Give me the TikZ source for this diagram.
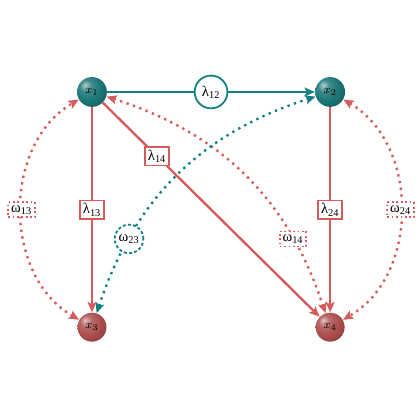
\documentclass[tikz,border=0pt]{standalone}
\usepackage{fontspec}
\setmainfont{Liberation Serif}
\usetikzlibrary{arrows.meta}
\definecolor{tl}{RGB}{18,128,128}
\definecolor{rd}{RGB}{212,92,92}
\definecolor{bt}{RGB}{28,118,118}
\definecolor{br}{RGB}{172,78,78}
\pgfdeclareradialshading{tballsh}{\pgfpoint{-12bp}{12bp}}{color(0bp)=(bt!35!white); color(10bp)=(bt!85!white); color(22bp)=(bt); color(40bp)=(bt!72!black); color(60bp)=(bt!55!black)}
\pgfdeclareradialshading{rballsh}{\pgfpoint{-12bp}{12bp}}{color(0bp)=(br!35!white); color(10bp)=(br!85!white); color(22bp)=(br); color(40bp)=(br!72!black); color(60bp)=(br!55!black)}
\tikzset{
  ballt/.style={circle, minimum size=0.71cm, inner sep=0pt, shading=tballsh, font=\footnotesize},
  ballr/.style={circle, minimum size=0.69cm, inner sep=0pt, shading=rballsh, font=\footnotesize},
  tip/.style={-{Stealth[length=7pt,width=6pt,inset=1.5pt]}},
  btip/.style={{Stealth[length=7pt,width=6pt,inset=1.5pt]}-{Stealth[length=7pt,width=6pt,inset=1.5pt]}},
  tline/.style={draw=tl, line width=1.6pt},
  rline/.style={draw=rd, line width=1.6pt},
  rdot/.style={draw=rd, line width=1.6pt, dash pattern=on 1.6pt off 3pt},
  tdot/.style={draw=tl, line width=1.6pt, dash pattern=on 1.6pt off 3pt},
  lamc/.style={circle, draw=tl, line width=1.2pt, fill=white, inner sep=1.5pt, minimum size=0.78cm},
  lamr/.style={rectangle, draw=rd, line width=1.2pt, fill=white, inner sep=2pt},
  omr/.style={rectangle, draw=rd, line width=1.2pt, dash pattern=on 1.2pt off 1.8pt, fill=white, inner sep=2pt},
  omc/.style={circle, draw=tl, line width=1.2pt, dash pattern=on 2pt off 1.5pt, fill=white, inner sep=0.5pt, minimum size=0.68cm},
}
\begin{document}
\begin{tikzpicture}
\useasboundingbox (0,0) rectangle (10,10);
\node[ballt] (x1) at (2.19,7.81) {$x_1$};
\node[ballt] (x2) at (7.86,7.81) {$x_2$};
\node[ballr] (x3) at (2.19,2.21) {$x_3$};
\node[ballr] (x4) at (7.86,2.21) {$x_4$};

\draw[rdot, btip] (x3) to[bend left=60, looseness=1.03] node[omr] (w13) {ω\textsubscript{13}} (x1);
\draw[rdot, btip] (x2) to[bend left=60, looseness=1.03] node[omr] (w24) {ω\textsubscript{24}} (x4);
\draw[rdot, btip] (x1) to[bend left=27] node[omr, pos=0.76] (w14) {ω\textsubscript{14}} (x4);
\draw[rline, tip] (x1) -- node[lamr, pos=0.25] (l14) {λ\textsubscript{14}} (x4);
\draw[tdot, btip] (x3) to[bend left=27] node[omc, pos=0.24] (w23) {ω\textsubscript{23}} (x2);
\draw[tline, tip] (x1) -- node[lamc] (l12) {λ\textsubscript{12}} (x2);
\draw[rline, tip] (x1) -- node[lamr] (l13) {λ\textsubscript{13}} (x3);
\draw[rline, tip] (x2) -- node[lamr] (l24) {λ\textsubscript{24}} (x4);
\end{tikzpicture}
\end{document}
